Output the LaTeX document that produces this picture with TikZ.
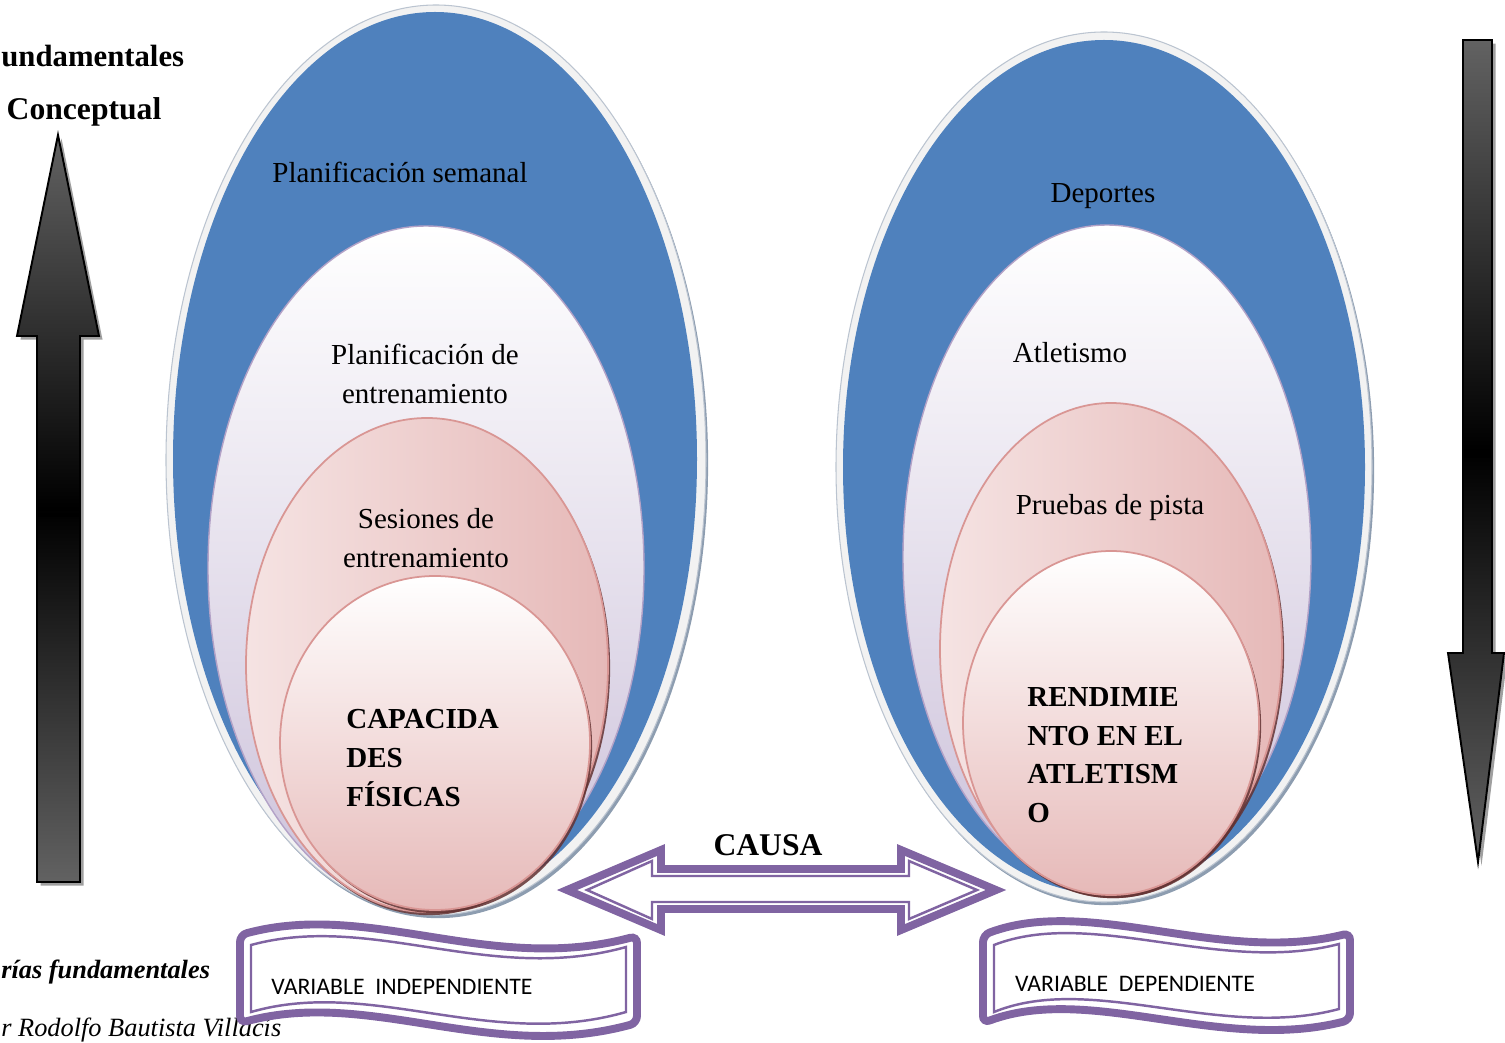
\documentclass[tikz,border=0pt]{standalone}
\usepackage{fontspec}
\setmainfont{Liberation Serif}
\newfontfamily\bannerfont{Carlito}
\usetikzlibrary{shadows}
\definecolor{ovalblue}{RGB}{79,129,189}
\definecolor{ovalhalo}{RGB}{242,242,242}
\definecolor{haloedge}{RGB}{141,157,176}
\definecolor{lilac}{RGB}{204,193,218}
\definecolor{lilacline}{RGB}{179,162,199}
\definecolor{rose}{RGB}{230,185,184}
\definecolor{roseline}{RGB}{217,150,148}
\definecolor{roseshadow}{RGB}{99,50,50}
\definecolor{ribbon}{RGB}{128,100,162}
\definecolor{arrowgray}{RGB}{98,98,98}
\tikzset{
	halo/.style={fill=ovalhalo, draw=haloedge!60, line width=0.6pt, drop shadow={shadow xshift=1.2pt, shadow yshift=-1.8pt, fill=haloedge, opacity=1}},
	blueoval/.style={fill=ovalblue},
	lilacoval/.style={top color=white, bottom color=lilac, draw=lilacline, line width=0.8pt},
	roseoval/.style={left color=rose!40, right color=rose, draw=roseline, line width=1pt, drop shadow={shadow xshift=1.2pt, shadow yshift=-1.8pt, fill=roseshadow, opacity=0.85}},
	coreoval/.style={top color=white, bottom color=rose, draw=roseline, line width=1pt, drop shadow={shadow xshift=1.2pt, shadow yshift=-1.8pt, fill=roseshadow, opacity=0.85}},
	ovaltext/.style={font=\fontsize{16.5}{22.5}\selectfont, align=center, inner sep=0pt},
	coretext/.style={font=\fontsize{16.5}{22}\selectfont\bfseries, align=left, anchor=west, inner sep=0pt},
	headtext/.style={font=\fontsize{18}{22}\selectfont\bfseries, inner sep=0pt},
	notetext/.style={font=\fontsize{15}{18}\selectfont\itshape, anchor=west, inner sep=0pt},
	bigarrow/.style={top color=arrowgray, bottom color=arrowgray, middle color=black, draw=black, line width=1.1pt, drop shadow={shadow xshift=2pt, shadow yshift=-2pt, fill=gray!75, opacity=1}},
	ribbonout/.style={draw=ribbon, line width=4.5pt, fill=white},
	ribbonin/.style={draw=ribbon, line width=1.4pt},
	bannertext/.style={font=\bannerfont\fontsize{13.5}{16}\selectfont, inner sep=0pt},
}
\begin{document}
\begin{tikzpicture}[x=0.02cm, y=0.02cm]
	\useasboundingbox (0,0) rectangle (1505,-1043);
	\draw[halo] (436,-460) ellipse (270 and 455);
	\fill[blueoval] (435,-459) ellipse (262 and 447);
	\draw[lilacoval] (426,-568) ellipse (218 and 342);
	\draw[roseoval] (427,-665) ellipse (181 and 247);
	\draw[coreoval] (435,-743) ellipse (155 and 167);
	\draw[halo] (1104,-467) ellipse (268 and 435);
	\fill[blueoval] (1104,-467) ellipse (261 and 427);
	\draw[lilacoval] (1107,-557) ellipse (204 and 332);
	\draw[roseoval] (1111,-649) ellipse (171 and 246);
	\draw[coreoval] (1111,-723) ellipse (148 and 172);
	\node[ovaltext] (weekly) at (400,-172) {Planificación semanal};
	\node[ovaltext] (training) at (425,-374) {Planificación de\\entrenamiento};
	\node[ovaltext] (sessions) at (426,-538) {Sesiones de\\entrenamiento};
	\node[coretext] (capacity) at (346,-758) {CAPACIDA\\DES\\FÍSICAS};
	\node[ovaltext] (sports) at (1103,-196) {Deportes};
	\node[ovaltext] (athletics) at (1070,-353) {Atletismo};
	\node[ovaltext] (track) at (1110,-508) {Pruebas de pista};
	\node[coretext] (performance) at (1027,-755) {RENDIMIE\\NTO EN EL\\ATLETISM\\O};
	\draw[bigarrow] (37,-882) -- (37,-336) -- (17,-336) -- (58,-135) -- (99,-336) -- (80,-336) -- (80,-882) -- cycle;
	\draw[black, line width=2pt] (37,-515) -- (80,-515);
	\draw[bigarrow] (1463,-40) -- (1492,-40) -- (1492,-653) -- (1504,-653) -- (1478,-862) -- (1448,-653) -- (1463,-653) -- cycle;
	\draw[black, line width=2pt] (1463,-456) -- (1492,-456);
	\node[headtext, anchor=west, font={\fontsize{17.5}{22}\selectfont\bfseries}] (fundamentals) at (1,-56) {undamentales};
	\node[headtext] (conceptual) at (84,-112) {Conceptual};
	\node[notetext, font={\fontsize{15}{18}\selectfont\bfseries\itshape}] (theories) at (1,-972) {rías fundamentales};
	\node[notetext] (author) at (1,-1030) {r Rodolfo Bautista Villacís};
	\draw[ribbonout] (567,-890) -- (661,-850) -- (661,-869) -- (901,-869) -- (901,-850) -- (996,-890) -- (901,-930) -- (901,-909) -- (661,-909) -- (661,-930) -- cycle;
	\draw[ribbonin] (587,-890) -- (652,-861) -- (652,-876) -- (909,-876) -- (909,-861) -- (977,-890) -- (909,-919) -- (909,-902) -- (652,-902) -- (652,-919) -- cycle;
	\node[headtext] (cause) at (768,-845) {CAUSA};
	\draw[ribbonout, rounded corners=4pt] (240,-935) .. controls (370,-900) and (490,-975) .. (637,-936) -- (637,-1023) .. controls (490,-1063) and (370,-988) .. (240,-1023) -- cycle;
	\draw[ribbonin] (251,-945) .. controls (372,-912) and (490,-985) .. (626,-947) -- (626,-1012) .. controls (490,-1051) and (372,-977) .. (251,-1012) -- cycle;
	\node[bannertext] (independent) at (402,-987) {VARIABLE\ \ INDEPENDIENTE};
	\draw[ribbonout, rounded corners=4pt] (983,-935) .. controls (1090,-895) and (1220,-965) .. (1350,-933) -- (1350,-1020) .. controls (1220,-1053) and (1090,-983) .. (983,-1023) -- cycle;
	\draw[ribbonin] (994,-945) .. controls (1092,-907) and (1220,-975) .. (1339,-944) -- (1339,-1009) .. controls (1220,-1041) and (1092,-972) .. (994,-1012) -- cycle;
	\node[bannertext] (dependent) at (1135,-984) {VARIABLE\ \ DEPENDIENTE};
\end{tikzpicture}
\end{document}
